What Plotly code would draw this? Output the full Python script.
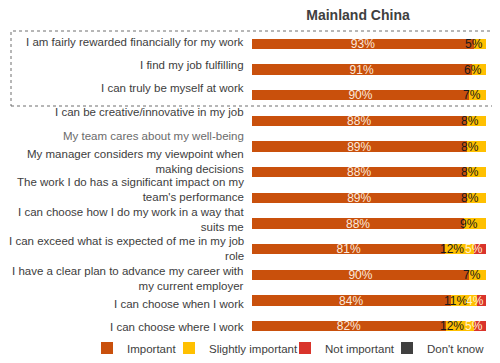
import plotly.graph_objects as go

categories = [
    "I am fairly rewarded financially for my work",
    "I find my job fulfilling",
    "I can truly be myself at work",
    "I can be creative/innovative in my job",
    "My team cares about my well-being",
    "My manager considers my viewpoint when<br>making decisions",
    "The work I do has a significant impact on my<br>team's performance",
    "I can choose how I do my work in a way that<br>suits me",
    "I can exceed what is expected of me in my job<br>role",
    "I have a clear plan to advance my career with<br>my current employer",
    "I can choose when I work",
    "I can choose where I work",
]
important = [93, 91, 90, 88, 89, 88, 89, 88, 81, 90, 84, 82]
slightly_important = [5, 6, 7, 8, 8, 8, 8, 9, 12, 7, 11, 12]
not_important = [0, 0, 0, 0, 0, 0, 0, 0, 5, 0, 4, 5]
dont_know = [0, 0, 0, 0, 0, 0, 0, 0, 0, 0, 0, 0]

# styling (not data): label vertical nudges in px, label colours
label_yshift = [2, 5, 7, 9, 11, 11, 8, 4, 1, -3.5, -3, -1]
label_colors = ["#3d3d3d"] * 4 + ["#6b6b6b"] + ["#3d3d3d"] * 7

series = [
    ("Important", important, "#C9500C", "#FBE9DD"),
    ("Slightly important", slightly_important, "#FFC000", "#1A1A1A"),
    ("Not important", not_important, "#D9342B", "#FFF2CC"),
    ("Don't know", dont_know, "#404040", "#FFFFFF"),
]
legend_ids = ["legend", "legend2", "legend3", "legend4"]
legend_text_x = [119, 201, 317, 419]   # px, where each legend label starts

# the page body adds an 8px margin, so the figure is 8px smaller
W, H = 492, 355
L, R, T, B = 244, 14, 23, 24
pw, ph = W - L - R, H - T - B
FONT = "Liberation Sans, Arial"

fig = go.Figure()
for k, ((name, vals, color, tcolor), lid) in enumerate(zip(series, legend_ids)):
    fig.add_trace(go.Bar(
        y=categories, x=vals, name=name, orientation="h", legend=lid,
        marker=dict(color=color, line=dict(width=0)),
        text=[f"{v}%" if v > 0 else "" for v in vals] if k == 0 else None,
        textposition="inside" if k == 0 else "none",
        insidetextanchor="middle", textangle=0,
        textfont=dict(color=tcolor, size=12, family=FONT),
        constraintext="none", cliponaxis=False, width=0.4,
        hovertemplate="%{y}: %{x:.0f}%<extra>" + name + "</extra>",
    ))

annotations = []
# category labels
for c, ys, col in zip(categories, label_yshift, label_colors):
    annotations.append(dict(
        x=0, xref="paper", y=c, yref="y", xanchor="right", yanchor="middle",
        xshift=-6, yshift=ys, text=c, showarrow=False, align="right",
        font=dict(size=11.5, color=col, family=FONT),
    ))

# value labels of the narrow segments, placed at each segment's centre on the
# (percent-normalised) x axis, nudged left like the original's data labels
all_vals = [s[1] for s in series]
for i, c in enumerate(categories):
    total = sum(v[i] for v in all_vals)
    start = 0
    for k, (name, vals, color, tcolor) in enumerate(series):
        v = vals[i]
        if k > 0 and v > 0:
            followed = any(series[j][1][i] > 0 for j in range(k + 1, len(series)))
            annotations.append(dict(
                x=(start + v / 2) / total * 100, xref="x", y=c, yref="y",
                xanchor="center", yanchor="middle",
                xshift=-8 if followed else -6,
                text=f"{v}%", showarrow=False,
                font=dict(size=12, color=tcolor, family=FONT),
            ))
        start += v

legends = {}
for lid, tx in zip(legend_ids, legend_text_x):
    legends[lid] = dict(
        orientation="h", xref="container", yref="container",
        x=(tx - 40) / W, xanchor="left", y=1 - 340 / H, yanchor="middle",
        font=dict(size=11.5, color="#404040", family=FONT),
        itemwidth=30, bgcolor="rgba(0,0,0,0)", borderwidth=0,
    )

fig.update_layout(
    width=W, height=H,
    barmode="stack", barnorm="percent",
    margin=dict(l=L, r=R, t=T, b=B, autoexpand=False),
    paper_bgcolor="white", plot_bgcolor="white",
    font=dict(family=FONT, size=12, color="#404040"),
    title=dict(text="<b>Mainland China</b>", x=350 / W, xanchor="center",
               y=1 - 7 / H, yanchor="middle",
               font=dict(size=14, color="#404040")),
    showlegend=True,
    xaxis=dict(range=[0, 100], visible=False, fixedrange=True),
    yaxis=dict(categoryorder="array", categoryarray=categories,
               autorange="reversed", showticklabels=False, showgrid=False,
               showline=False, ticks="", automargin=False),
    annotations=annotations,
    shapes=[dict(type="rect", xref="paper", yref="paper",
                 x0=(3 - L) / pw, x1=(W + 10 - L) / pw,
                 y0=1 - (98 - T) / ph, y1=1.0,
                 line=dict(color="#6F6F6F", width=1, dash="dot"))],
    **legends,
)

fig.write_html("out.html")
